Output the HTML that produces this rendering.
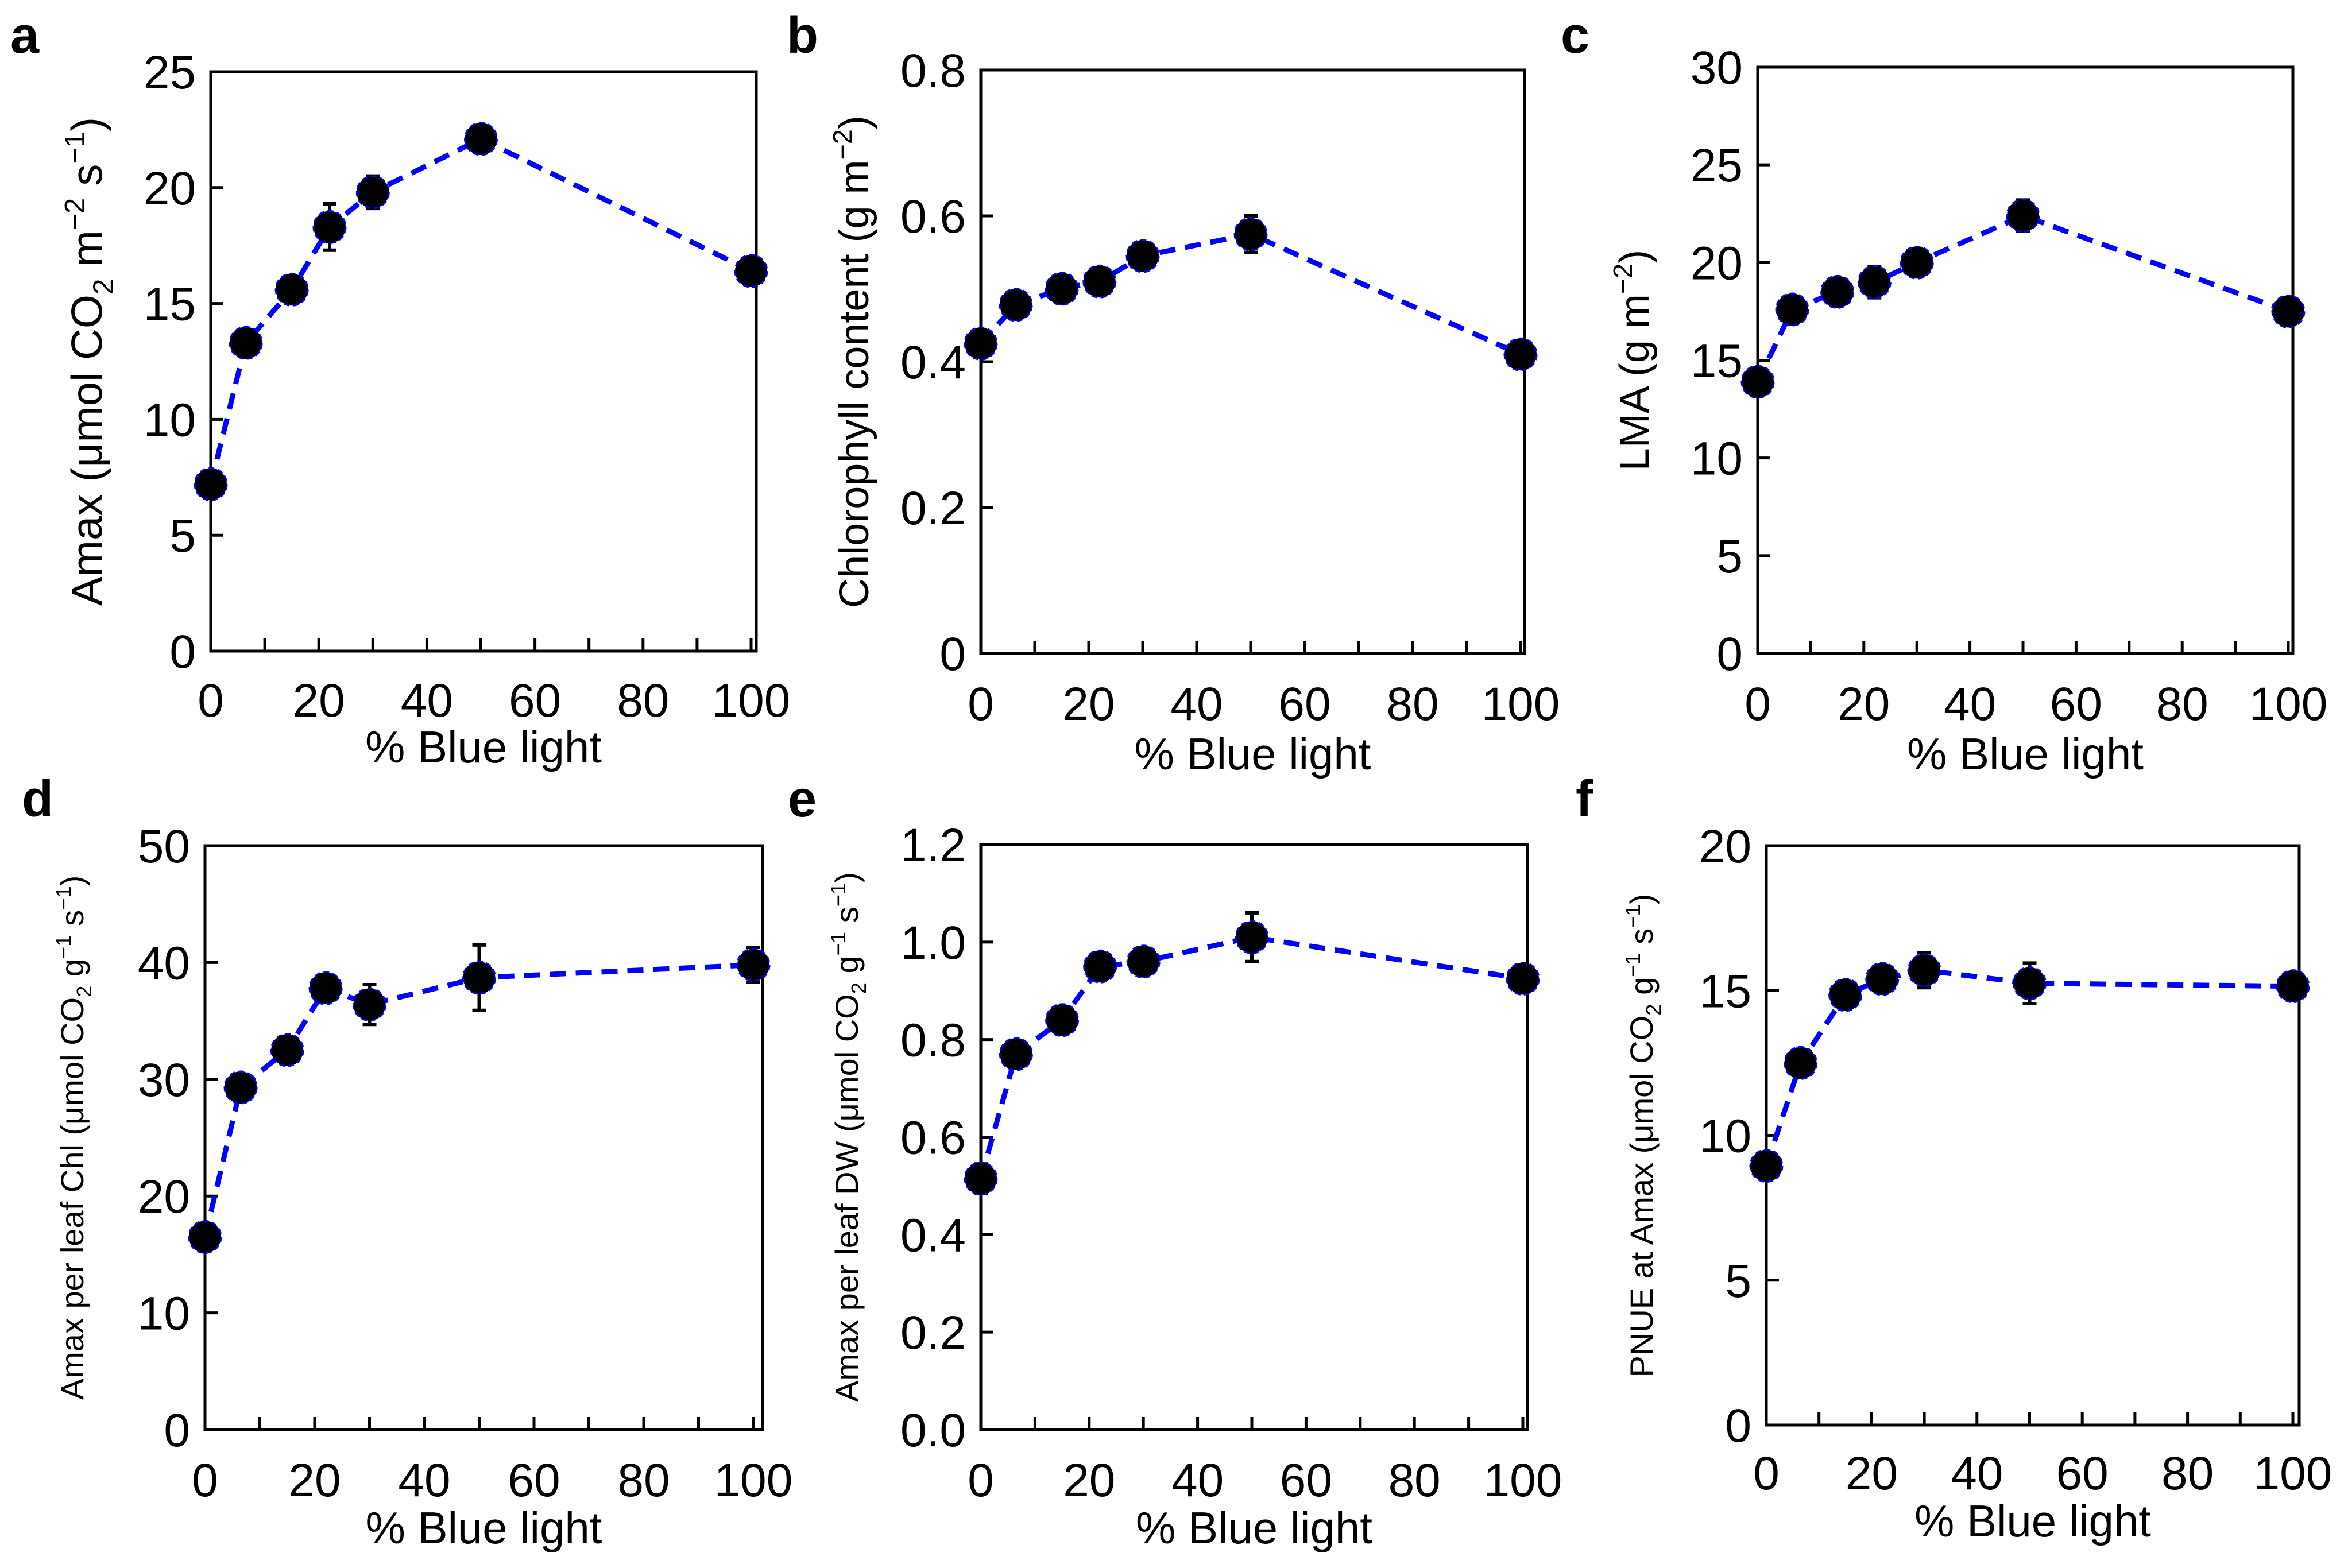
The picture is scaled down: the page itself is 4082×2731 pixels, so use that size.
<!DOCTYPE html>
<html><head><meta charset="utf-8"><style>
html,body{margin:0;padding:0;background:#fff;}
svg{display:block;font-family:"Liberation Sans",Arial,sans-serif;}
</style></head><body>
<svg id="fig" width="4082" height="2731" viewBox="0 0 4082 2731" xmlns="http://www.w3.org/2000/svg"></svg>
<script>
const xValues = [0, 6.5, 15, 22, 30, 50, 100];
const xTickLabels = [0, 20, 40, 60, 80, 100];
const aValues = [7.2, 13.3, 15.6, 18.3, 19.8, 22.1, 16.4];
const aErrors = [0.3, 0.3, 0.3, 1.0, 0.7, 0.3, 0.3];
const aTicks = [0, 5, 10, 15, 20, 25];
const bValues = [0.425, 0.478, 0.5, 0.51, 0.545, 0.575, 0.41];
const bErrors = [0.01, 0.01, 0.01, 0.01, 0.012, 0.025, 0.01];
const bTicks = ["0", "0.2", "0.4", "0.6", "0.8"];
const cValues = [13.9, 17.6, 18.5, 19.0, 20.0, 22.4, 17.5];
const cErrors = [0.4, 0.4, 0.4, 0.8, 0.4, 0.8, 0.4];
const cTicks = [0, 5, 10, 15, 20, 25, 30];
const dValues = [16.5, 29.3, 32.5, 37.8, 36.4, 38.7, 39.8];
const dErrors = [0.5, 0.5, 0.5, 0.5, 1.7, 2.8, 1.5];
const dTicks = [0, 10, 20, 30, 40, 50];
const eValues = [0.515, 0.77, 0.84, 0.95, 0.96, 1.01, 0.925];
const eErrors = [0.03, 0.01, 0.01, 0.01, 0.01, 0.05, 0.01];
const eTicks = ["0.0", "0.2", "0.4", "0.6", "0.8", "1.0", "1.2"];
const fValues = [8.95, 12.5, 14.85, 15.4, 15.7, 15.25, 15.15];
const fErrors = [0.2, 0.2, 0.2, 0.2, 0.6, 0.7, 0.2];
const fTicks = [0, 5, 10, 15, 20];

const NS = "http://www.w3.org/2000/svg";
const svg = document.getElementById("fig");
function mk(tag, attrs, parent, text) {
  const e = document.createElementNS(NS, tag);
  for (const k in attrs) e.setAttribute(k, attrs[k]);
  if (text !== undefined) e.textContent = text;
  (parent || svg).appendChild(e);
  return e;
}

const panels = [
  {id:"a", vals:aValues, errs:aErrors, ticks:aTicks, ymax:25, L:367, R:1317, T:125, B:1134, x100:1308,
   letter:[18,92], ytx:150, ytfs:76, xty:1328, tly:1248, ytitle:["Amax (μmol CO","2"," m","−2"," s","−1",")"]},
  {id:"b", vals:bValues, errs:bErrors, ticks:bTicks, ymax:0.8, L:1708, R:2655, T:122, B:1138, x100:2648,
   letter:[1370,92], ytx:1486, ytfs:72, xty:1340, tly:1254, ytitle:["Chlorophyll content (g m","−2",")"]},
  {id:"c", vals:cValues, errs:cErrors, ticks:cTicks, ymax:30, L:3061, R:3993, T:117, B:1138, x100:3985,
   letter:[2718,92], ytx:2845, ytfs:72, xty:1340, tly:1254, ytitle:["LMA (g m","−2",")"]},
  {id:"d", vals:dValues, errs:dErrors, ticks:dTicks, ymax:50, L:357, R:1328, T:1473, B:2490, x100:1312,
   letter:[38,1422], ytx:125, ytfs:56, xty:2688, tly:2606, ytitle:["Amax per leaf Chl (μmol CO","2"," g","−1"," s","−1",")"]},
  {id:"e", vals:eValues, errs:eErrors, ticks:eTicks, ymax:1.2, L:1708, R:2660, T:1471, B:2490, x100:2652,
   letter:[1372,1422], ytx:1474, ytfs:56, xty:2688, tly:2606, ytitle:["Amax per leaf DW (μmol CO","2"," g","−1"," s","−1",")"]},
  {id:"f", vals:fValues, errs:fErrors, ticks:fTicks, ymax:20, L:3076, R:4004, T:1473, B:2482, x100:3993,
   letter:[2744,1422], ytx:2858, ytfs:56, xty:2676, tly:2594, ytitle:["PNUE at Amax (μmol CO","2"," g","−1"," s","−1",")"]}
];

panels.forEach(p => {
  const g = mk("g", {});
  
  
  const xs = v => p.L + (p.x100 - p.L) * v / 100;
  const ys = v => p.B - (p.B - p.T) * v / p.ymax;

  const lt = mk("text", {x:p.letter[0], y:p.letter[1], "font-size":90, "font-weight":"bold"}, g, p.id);
  
  

  const frame = mk("rect", {x:p.L, y:p.T, width:p.R-p.L, height:p.B-p.T, fill:"none", stroke:"#000", "stroke-width":5}, g);
  
  

  for (let v = 0; v <= 100; v += 10) {
    const t = mk("line", {x1:xs(v), x2:xs(v), y1:p.B, y2:p.B-22, stroke:"#000", "stroke-width":5}, g);
    
    
  }
  xTickLabels.forEach(v => {
    const t = mk("text", {x:xs(v), y:p.tly, "font-size":82, "text-anchor":"middle"}, g, String(v));
    
    
  });
  p.ticks.forEach(tv => {
    const v = parseFloat(tv);
    const y = ys(v);
    if (v > 0 && v < p.ymax) {
      const t = mk("line", {x1:p.L, x2:p.L+22, y1:y, y2:y, stroke:"#000", "stroke-width":5}, g);
      
      
    }
    const t = mk("text", {x:p.L-26, y:y+29, "font-size":82, "text-anchor":"end"}, g, String(tv));
    
    
  });
  const xt = mk("text", {x:(p.L+p.R)/2, y:p.xty, "font-size":78, "text-anchor":"middle"}, g, "% Blue light");
  
  
  const cy = (p.T + p.B) / 2;
  const yt = mk("text", {x:0, y:0, "font-size":p.ytfs, "text-anchor":"middle", transform:`translate(${p.ytx + p.ytfs*0.36},${cy}) rotate(-90)`}, g);
  
  
  p.ytitle.forEach((s, i) => {
    const isSub = s === "2";
    const isSup = s.startsWith("−");
    const attrs = {};
    if (isSub) { attrs["font-size"] = p.ytfs*0.65; attrs["dy"] = p.ytfs*0.25; }
    else if (isSup) { attrs["font-size"] = p.ytfs*0.65; attrs["dy"] = -p.ytfs*0.4; }
    else {
      const prev = p.ytitle[i-1];
      if (prev === "2") attrs["dy"] = -p.ytfs*0.25;
      else if (prev && prev.startsWith("−")) attrs["dy"] = p.ytfs*0.4;
    }
    mk("tspan", attrs, yt, s);
  });
  const pts = xValues.map((x, i) => xs(x) + "," + ys(p.vals[i])).join(" ");
  const line = mk("polyline", {points:pts, fill:"none", stroke:"#0000ff", "stroke-width":9, "stroke-dasharray":"28,17"}, g);
  
  
  xValues.forEach((x, i) => {
    const cx = xs(x), y1 = ys(p.vals[i] + p.errs[i]), y2 = ys(p.vals[i] - p.errs[i]);
    const eg = mk("g", {stroke:"#000", "stroke-width":6}, g);
    
    
    mk("line", {x1:cx, x2:cx, y1:y1, y2:y2}, eg);
    mk("line", {x1:cx-12, x2:cx+12, y1:y1, y2:y1}, eg);
    mk("line", {x1:cx-12, x2:cx+12, y1:y2, y2:y2}, eg);
    const c = mk("circle", {cx:cx, cy:ys(p.vals[i]), r:28, fill:"#000", stroke:"#0000ff", "stroke-width":3, "stroke-dasharray":"10,6"}, g);
    
    
  });
});
</script>
</body></html>
